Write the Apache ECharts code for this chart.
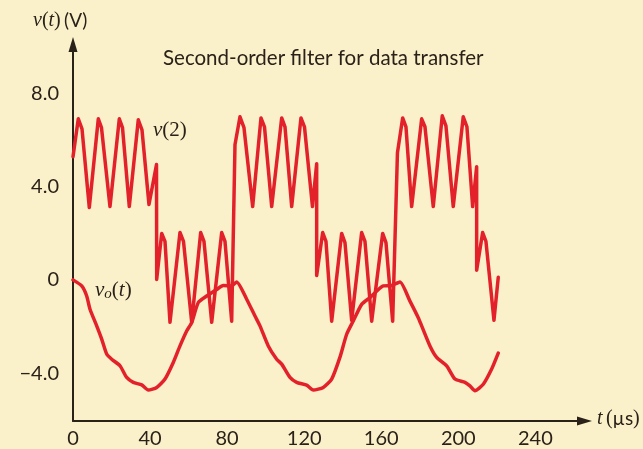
<!DOCTYPE html>
<html><head><meta charset="utf-8">
<script src="https://cdn.jsdelivr.net/npm/echarts@6/dist/echarts.min.js"></script>
<style>html,body{margin:0;padding:0;background:#faf1cb;}#c{width:643px;height:449px;}</style>
</head><body><div id="c"></div>
<script>
// v(2) waveform: time (µs) and voltage (V)
const v2Time = [0, 2.75, 4.67, 8.46, 13.13, 14.79, 19.20, 24.03, 25.69, 29.22, 33.89, 35.81, 39.44, 43.34, 43.44,
  46.04, 47.75, 50.34, 55.53, 57.35, 61.61, 66.28, 67.99, 71.99, 77.18, 78.89, 82.36, 84.08,
  86.67, 88.75, 93.26, 97.57, 99.39, 103.13, 108.32, 110.03, 113.51, 118.33, 120.15, 124.30, 126.48, 126.48,
  129.60, 131.31, 134.27, 139.45, 141.17, 144.64, 149.83, 151.55, 155.03, 160.73, 162.45, 165.92, 168.41,
  171.11, 172.83, 175.78, 180.97, 182.69, 186.99, 191.66, 193.58, 197.37, 202.56, 204.48, 207.44, 209.52, 209.52,
  212.63, 214.34, 218.50, 220.73];
const v2Volt = [5.28, 6.90, 6.47, 3.10, 6.90, 6.52, 3.14, 6.90, 6.52, 3.14, 6.86, 6.43, 3.23, 4.94, 0.02,
  1.99, 1.65, -1.82, 2.03, 1.65, -1.82, 2.03, 1.65, -1.82, 2.03, 1.65, -1.77, 5.79,
  6.99, 6.52, 3.14, 6.94, 6.56, 3.14, 6.94, 6.56, 3.14, 6.94, 6.56, 3.14, 4.98, 0.19,
  2.03, 1.65, -1.77, 1.99, 1.60, -1.73, 2.03, 1.65, -1.77, 1.99, 1.60, -1.77, 5.45,
  6.94, 6.56, 3.14, 6.90, 6.56, 3.14, 7.03, 6.60, 3.14, 6.99, 6.56, 3.14, 4.85, 0.41,
  2.03, 1.65, -1.73, 0.11];
// vo(t) waveform
const voTime = [0, 4.52, 7.11, 8.82, 12.30, 14.90, 17.49, 20.09, 24.39, 27.87, 31.30, 35.65, 39.08, 43.44, 47.75,
  52.05, 55.53, 59.01, 61.61, 65.03, 69.39, 74.58, 78.00, 82.36, 84.96, 90.15, 94.46, 97.05, 101.36, 105.72,
  108.32, 112.62, 116.10, 121.29, 124.71, 129.90, 134.27, 138.58, 142.05, 145.48, 149.83, 154.14, 161.04,
  165.40, 169.71, 174.90, 179.21, 180.97, 185.28, 188.76, 193.95, 198.26, 203.45, 206.04, 208.64, 212.95,
  217.31, 220.73];
const voVolt = [0, -0.26, -0.69, -1.26, -1.97, -2.54, -3.18, -3.40, -3.68, -4.18, -4.39, -4.50, -4.72, -4.61, -4.25,
  -3.54, -2.83, -2.19, -1.83, -0.97, -0.69, -0.41, -0.24, -0.26, -0.09, -0.83, -1.55, -1.97, -2.83, -3.40,
  -3.61, -4.18, -4.39, -4.51, -4.72, -4.61, -4.25, -3.31, -2.33, -1.76, -1.05, -0.76, -0.26,
  -0.24, -0.09, -0.91, -1.62, -1.97, -2.83, -3.32, -3.68, -4.25, -4.39, -4.54, -4.75, -4.47,
  -3.82, -3.14];
const xTickValues = [0, 40, 80, 120, 160, 200, 240];
const yTickValues = [-4, 0, 4, 8];
const yTickLabels = ['\u22124.0', '0', '4.0', '8.0'];

const ink = '#2a2118';
const red = '#e3212b';
const sans = 'Lato';
const serif = 'Liberation Serif';

const pairs = (t, v) => t.map((x, i) => [x, v[i]]);

const chart = echarts.init(document.getElementById('c'), null, {renderer: 'canvas'});
chart.setOption({
  animation: false,
  backgroundColor: '#faf1cb',
  title: {
    text: 'Second-order filter for data transfer',
    left: 158, top: 43,
    textStyle: {fontFamily: sans, fontSize: 20.5, fontWeight: 'normal', color: ink}
  },
  grid: {left: 73, right: 58.5, top: 44.5, bottom: 27, containLabel: false},
  xAxis: {
    type: 'value', min: 0, max: 265.5,
    axisLine: {onZero: false, lineStyle: {color: ink, width: 2}, symbol: ['none', 'triangle'], symbolSize: [9, 15]},
    axisTick: {show: false},
    splitLine: {show: false},
    axisLabel: {customValues: xTickValues, margin: 8, fontFamily: sans, fontSize: 20, color: ink,
      formatter: v => String(v)}
  },
  yAxis: {
    type: 'value', min: -6.047, max: 10.085,
    axisLine: {onZero: false, lineStyle: {color: ink, width: 2}, symbol: ['none', 'triangle'], symbolSize: [9, 15]},
    axisTick: {show: false},
    splitLine: {show: false},
    axisLabel: {customValues: yTickValues, margin: 14, fontFamily: sans, fontSize: 20, color: ink,
      formatter: v => yTickLabels[yTickValues.indexOf(v)]}
  },
  graphic: [
    {type: 'text', left: 33, top: 11, style: {rich: {
        i: {fontFamily: serif, fontStyle: 'italic', fontSize: 20, fill: ink},
        p: {fontFamily: serif, fontSize: 20, fill: ink},
        s: {fontFamily: sans, fontSize: 19, fill: ink}},
      text: '{i|v}{p|(}{i|t}{p|)} {s|(V)}'}},
    {type: 'text', left: 597, top: 409, style: {rich: {
        i: {fontFamily: serif, fontStyle: 'italic', fontSize: 20, fill: ink},
        p: {fontFamily: serif, fontSize: 20, fill: ink},
        s: {fontFamily: sans, fontSize: 19, fill: ink}},
      text: '{i|t} {p|(}{s|\u00b5s}{p|)}'}},
    {type: 'text', left: 153, top: 120, style: {rich: {
        i: {fontFamily: serif, fontStyle: 'italic', fontSize: 21, fill: ink},
        p: {fontFamily: serif, fontSize: 21, fill: ink}},
      text: '{i|v}{p|(2)}'}},
    {type: 'text', left: 95, top: 280, style: {rich: {
        i: {fontFamily: serif, fontStyle: 'italic', fontSize: 21, fill: ink},
        sub: {fontFamily: serif, fontStyle: 'italic', fontSize: 15, fill: ink, verticalAlign: 'bottom', padding: [8, 0, 0, 0]},
        p: {fontFamily: serif, fontSize: 21, fill: ink}},
      text: '{i|v}{sub|o}{p|(}{i|t}{p|)}'}}
  ],
  series: [
    {type: 'line', name: 'v(2)', data: pairs(v2Time, v2Volt), showSymbol: false, smooth: false,
      lineStyle: {color: red, width: 3.5, join: 'round', cap: 'round'}, z: 3},
    {type: 'line', name: 'vo(t)', data: pairs(voTime, voVolt), showSymbol: false, smooth: 0.2,
      lineStyle: {color: red, width: 3.5, join: 'round', cap: 'round'}, z: 3}
  ]
});
</script>
</body></html>
